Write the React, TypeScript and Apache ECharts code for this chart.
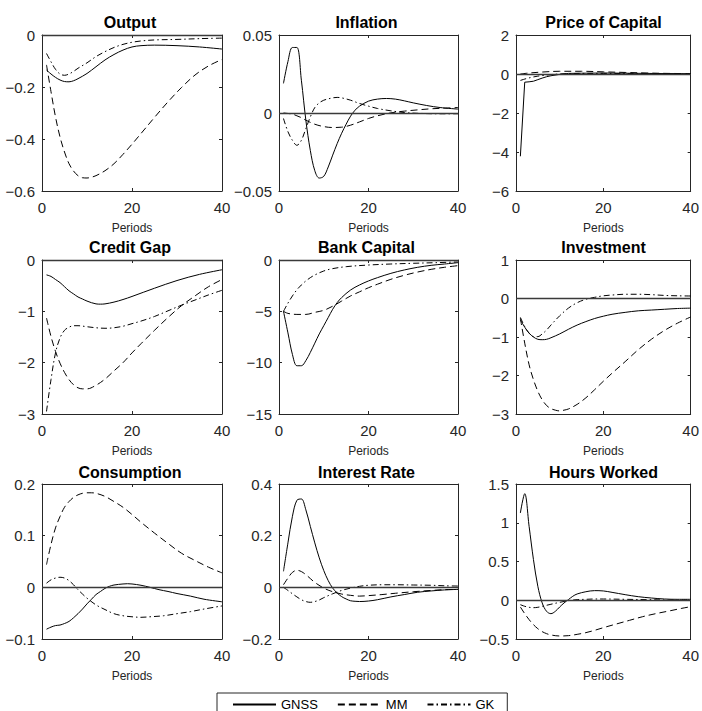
import React, { useEffect, useRef } from 'react';
import * as echarts from 'echarts';

const panelTitles = ['Output', 'Inflation', 'Price of Capital', 'Credit Gap', 'Bank Capital', 'Investment', 'Consumption', 'Interest Rate', 'Hours Worked'];
const yMins = [-0.6, -0.05, -6, -3, -15, -3, -0.1, -0.2, -0.5];
const yMaxs = [0, 0.05, 2, 0, 0, 1, 0.2, 0.4, 1.5];
const yIntervals = [0.2, 0.05, 2, 1, 5, 1, 0.1, 0.2, 0.5];
const xMin = 0;
const xMax = 40;
const xInterval = 20;
const xLabel = 'Periods';
const modelNames = ['GNSS', 'MM', 'GK'];

// Output
const outputGNSS = [[1,-0.135],[2,-0.150],[3,-0.163],[4,-0.173],[5,-0.179],[6,-0.180],[7,-0.176],[8,-0.168],[10,-0.148],[12,-0.122],[14,-0.096],[16,-0.075],[18,-0.058],[20,-0.046],[22,-0.041],[25,-0.039],[30,-0.041],[35,-0.046],[40,-0.054]];
const outputMM = [[1,-0.115],[2,-0.218],[3,-0.315],[4,-0.392],[5,-0.450],[6,-0.495],[7,-0.523],[8,-0.541],[9,-0.549],[10,-0.550],[11,-0.547],[12,-0.541],[14,-0.522],[16,-0.495],[18,-0.459],[20,-0.420],[22,-0.379],[25,-0.317],[28,-0.257],[31,-0.202],[34,-0.154],[37,-0.119],[40,-0.094]];
const outputGK = [[1,-0.071],[2,-0.103],[3,-0.132],[4,-0.150],[5,-0.155],[6,-0.150],[7,-0.140],[8,-0.128],[10,-0.107],[12,-0.083],[14,-0.064],[16,-0.048],[18,-0.036],[20,-0.028],[22,-0.023],[25,-0.019],[30,-0.017],[35,-0.014],[40,-0.012]];

// Inflation
const inflationGNSS = [[1,0.019],[2,0.033],[3,0.042],[4,0.042],[5,0.021],[6,-0.0046],[7,-0.024],[8,-0.037],[9,-0.0417],[10,-0.0406],[11,-0.0346],[12,-0.027],[13,-0.0196],[14,-0.013],[15,-0.0072],[16,-0.002],[17,0.0018],[18,0.0044],[20,0.0076],[22,0.0089],[24,0.0093],[26,0.0089],[28,0.0078],[30,0.0065],[33,0.0048],[36,0.0035],[40,0.0025]];
const inflationMM = [[1,0],[2,-0.0003],[3,-0.0007],[4,-0.0018],[5,-0.003],[6,-0.0046],[8,-0.0072],[10,-0.0087],[12,-0.0093],[14,-0.0091],[16,-0.0078],[18,-0.0057],[20,-0.0035],[22,-0.0018],[25,0.0001],[28,0.0012],[31,0.002],[34,0.0027],[37,0.0031],[40,0.0035]];
const inflationGK = [[1,-0.0035],[2,-0.012],[3,-0.0175],[4,-0.0207],[5,-0.0175],[6,-0.010],[7,-0.0025],[8,0.0035],[9,0.0065],[10,0.0082],[12,0.0097],[13,0.010],[14,0.0097],[16,0.0082],[18,0.0061],[20,0.0044],[22,0.0029],[25,0.0014],[28,0.0003],[32,-0.0003],[36,-0.0005],[40,-0.0005]];

// Price of Capital
const priceGNSS = [[1,-4.22],[2,-0.42],[3,-0.40],[4,-0.37],[5,-0.29],[6,-0.21],[7,-0.14],[8,-0.09],[10,-0.02],[12,0.03],[15,0.04],[20,0.05],[25,0.04],[30,0.03],[40,0.01]];
const priceMM = [[1,0.0],[3,0.05],[6,0.10],[10,0.14],[15,0.14],[20,0.11],[25,0.08],[30,0.05],[35,0.03],[40,0.02]];
const priceGK = [[1,-0.33],[2,-0.26],[3,-0.20],[4,-0.15],[5,-0.11],[6,-0.08],[8,-0.03],[10,0.0],[12,0.02],[15,0.03],[20,0.03],[30,0.01],[40,0.0]];

// Credit Gap
const creditGNSS = [[1,-0.29],[2,-0.32],[3,-0.38],[4,-0.44],[5,-0.52],[6,-0.60],[7,-0.66],[8,-0.72],[9,-0.76],[10,-0.80],[12,-0.855],[13,-0.86],[14,-0.855],[16,-0.82],[18,-0.77],[20,-0.71],[25,-0.55],[30,-0.40],[35,-0.28],[40,-0.19]];
const creditMM = [[1,-1.13],[2,-1.49],[3,-1.78],[4,-2.01],[5,-2.19],[6,-2.33],[7,-2.43],[8,-2.49],[9,-2.51],[10,-2.51],[12,-2.44],[14,-2.32],[16,-2.16],[18,-2.00],[20,-1.81],[22,-1.63],[25,-1.37],[28,-1.12],[31,-0.89],[34,-0.70],[37,-0.52],[40,-0.38]];
const creditGK = [[1,-2.95],[2,-2.33],[3,-1.81],[4,-1.52],[5,-1.37],[6,-1.31],[7,-1.28],[8,-1.28],[10,-1.30],[12,-1.32],[14,-1.33],[16,-1.32],[18,-1.29],[20,-1.24],[22,-1.19],[25,-1.10],[28,-0.99],[31,-0.88],[34,-0.78],[37,-0.68],[40,-0.59]];

// Bank Capital
const bankGNSS = [[1,-5.0],[2,-7.1],[3,-9.2],[4,-10.3],[5,-10.3],[6,-9.8],[7,-9.0],[8,-8.1],[9,-7.2],[10,-6.4],[11,-5.6],[12,-4.8],[13,-4.15],[14,-3.66],[16,-2.92],[18,-2.43],[20,-2.04],[22,-1.72],[25,-1.30],[28,-0.97],[31,-0.71],[34,-0.52],[37,-0.39],[40,-0.26]];
const bankMM = [[1,-5.0],[2,-5.2],[4,-5.3],[6,-5.3],[8,-5.1],[10,-4.9],[12,-4.5],[14,-4.0],[16,-3.5],[18,-3.1],[20,-2.7],[22,-2.36],[25,-1.88],[28,-1.49],[31,-1.17],[34,-0.91],[37,-0.71],[40,-0.55]];
const bankGK = [[1,-5.0],[2,-4.2],[3,-3.5],[4,-2.9],[5,-2.43],[6,-2.04],[7,-1.72],[8,-1.46],[10,-1.07],[12,-0.84],[15,-0.65],[20,-0.49],[25,-0.39],[30,-0.32],[35,-0.26],[40,-0.19]];

// Investment
const investGNSS = [[1,-0.555],[2,-0.745],[3,-0.90],[4,-1.0],[5,-1.06],[6,-1.07],[7,-1.06],[8,-1.02],[10,-0.92],[12,-0.80],[14,-0.69],[16,-0.60],[18,-0.52],[20,-0.46],[22,-0.41],[25,-0.36],[28,-0.32],[31,-0.30],[34,-0.28],[37,-0.26],[40,-0.25]];
const investMM = [[1,-0.51],[2,-1.16],[3,-1.72],[4,-2.11],[5,-2.41],[6,-2.63],[7,-2.78],[8,-2.86],[9,-2.90],[10,-2.92],[11,-2.90],[12,-2.87],[14,-2.75],[16,-2.58],[18,-2.37],[20,-2.15],[22,-1.94],[25,-1.64],[28,-1.33],[31,-1.06],[34,-0.83],[37,-0.64],[40,-0.48]];
const investGK = [[1,-0.49],[2,-0.73],[3,-0.90],[4,-0.99],[5,-0.99],[6,-0.92],[7,-0.82],[8,-0.69],[10,-0.45],[12,-0.25],[14,-0.11],[16,-0.02],[18,0.03],[20,0.07],[22,0.09],[25,0.11],[28,0.11],[31,0.10],[34,0.08],[37,0.07],[40,0.065]];

// Consumption
const consGNSS = [[1,-0.081],[2,-0.077],[3,-0.074],[4,-0.073],[5,-0.070],[6,-0.066],[7,-0.059],[8,-0.051],[9,-0.042],[10,-0.032],[11,-0.023],[12,-0.014],[13,-0.008],[14,-0.002],[15,0.002],[16,0.0045],[18,0.0065],[19,0.007],[20,0.0065],[22,0.004],[24,0.0],[26,-0.0045],[28,-0.008],[30,-0.012],[33,-0.017],[36,-0.023],[40,-0.028]];
const consMM = [[1,0.044],[2,0.083],[3,0.115],[4,0.137],[5,0.155],[6,0.166],[7,0.174],[8,0.179],[9,0.182],[10,0.183],[11,0.183],[12,0.182],[14,0.176],[16,0.166],[18,0.155],[20,0.141],[22,0.126],[25,0.105],[28,0.085],[31,0.066],[34,0.052],[37,0.039],[40,0.028]];
const consGK = [[1,0.008],[2,0.0145],[3,0.018],[4,0.0195],[5,0.018],[6,0.013],[7,0.005],[8,-0.0045],[9,-0.013],[10,-0.021],[12,-0.034],[14,-0.043],[16,-0.051],[18,-0.055],[20,-0.057],[22,-0.058],[24,-0.057],[27,-0.055],[30,-0.051],[33,-0.047],[36,-0.042],[40,-0.036]];

// Interest Rate
const rateGNSS = [[1,0.062],[2,0.172],[3,0.275],[4,0.337],[5,0.342],[6,0.30],[7,0.236],[8,0.172],[9,0.114],[10,0.065],[11,0.026],[12,-0.003],[13,-0.022],[14,-0.036],[15,-0.045],[16,-0.052],[17,-0.054],[18,-0.055],[20,-0.053],[22,-0.048],[25,-0.037],[28,-0.028],[31,-0.019],[34,-0.014],[37,-0.010],[40,-0.008]];
const rateMM = [[1,0.010],[2,0.036],[3,0.058],[4,0.066],[5,0.061],[6,0.049],[7,0.034],[8,0.019],[10,-0.003],[12,-0.017],[14,-0.026],[16,-0.031],[18,-0.034],[20,-0.032],[23,-0.028],[26,-0.023],[30,-0.017],[34,-0.012],[37,-0.009],[40,-0.008]];
const rateGK = [[1,0.0],[2,-0.012],[3,-0.025],[4,-0.037],[5,-0.048],[6,-0.055],[7,-0.058],[8,-0.055],[9,-0.049],[10,-0.040],[12,-0.025],[14,-0.012],[16,-0.003],[18,0.004],[20,0.008],[23,0.010],[26,0.010],[30,0.009],[34,0.008],[37,0.006],[40,0.005]];

// Hours Worked
const hoursGNSS = [[1,1.126],[2,1.375],[3,0.954],[4,0.524],[5,0.18],[6,-0.035],[7,-0.143],[8,-0.173],[9,-0.143],[10,-0.087],[11,-0.035],[12,0.008],[13,0.051],[14,0.081],[16,0.11],[18,0.124],[20,0.12],[22,0.102],[25,0.072],[28,0.046],[31,0.029],[34,0.016],[37,0.012],[40,0.012]];
const hoursMM = [[1,-0.087],[2,-0.173],[3,-0.25],[4,-0.315],[5,-0.367],[6,-0.405],[7,-0.431],[8,-0.448],[10,-0.461],[12,-0.457],[14,-0.44],[16,-0.418],[18,-0.388],[20,-0.354],[23,-0.306],[26,-0.259],[29,-0.212],[32,-0.173],[35,-0.139],[38,-0.104],[40,-0.083]];
const hoursGK = [[1,-0.057],[2,-0.078],[3,-0.091],[4,-0.096],[5,-0.091],[6,-0.078],[8,-0.052],[10,-0.027],[12,-0.005],[14,0.008],[16,0.012],[18,0.016],[20,0.016],[25,0.012],[30,0.008],[35,0.003],[40,0.003]];

const panelData = [
  [outputGNSS, outputMM, outputGK],
  [inflationGNSS, inflationMM, inflationGK],
  [priceGNSS, priceMM, priceGK],
  [creditGNSS, creditMM, creditGK],
  [bankGNSS, bankMM, bankGK],
  [investGNSS, investMM, investGK],
  [consGNSS, consMM, consGK],
  [rateGNSS, rateMM, rateGK],
  [hoursGNSS, hoursMM, hoursGK],
];

// layout (pixels)
const colLeft = [42, 279, 516];
const colWidth = [180, 179, 179];
const rowTop = [35, 260, 484];
const rowHeight = [156, 154, 155];
const titleTop = [14.5, 239.5, 464.5];

const FONT = '"Liberation Sans", Arial, Helvetica, sans-serif';
const AXIS_COLOR = '#262626';
const lineDashes: any[] = ['solid', [7, 4], [6, 3, 1.5, 3]];

const fmtTick = (v: number) => {
  const s = String(Math.round(v * 10000) / 10000);
  return s.replace('-', '\u2212');
};

export default function App() {
  const ref = useRef<HTMLDivElement>(null);
  useEffect(() => {
    if (!ref.current) return;
    const chart = echarts.init(ref.current, undefined, { renderer: 'svg' });
    const grids: any[] = [];
    const xAxes: any[] = [];
    const yAxes: any[] = [];
    const titles: any[] = [];
    const series: any[] = [];
    for (let i = 0; i < 9; i++) {
      const col = i % 3;
      const row = Math.floor(i / 3);
      grids.push({ left: colLeft[col], top: rowTop[row], width: colWidth[col], height: rowHeight[row], containLabel: false });
      titles.push({
        text: panelTitles[i],
        left: colLeft[col] + colWidth[col] / 2 - 2,
        top: titleTop[row],
        textAlign: 'center',
        padding: 0,
        textStyle: { fontSize: 16, fontWeight: 'bold', color: '#000', fontFamily: FONT },
      });
      const common = {
        gridIndex: i,
        axisLine: { show: true, onZero: false, lineStyle: { color: AXIS_COLOR, width: 1 } },
        axisTick: { show: true, inside: true, length: 3, lineStyle: { color: AXIS_COLOR } },
        splitLine: { show: false },
      };
      xAxes.push({
        ...common,
        type: 'value', position: 'bottom', min: xMin, max: xMax, interval: xInterval,
        axisLabel: { show: true, fontSize: 15, color: AXIS_COLOR, margin: 9, fontFamily: FONT, formatter: fmtTick },
        name: xLabel, nameLocation: 'middle', nameGap: 31,
        nameTextStyle: { fontSize: 12, color: AXIS_COLOR, fontFamily: FONT },
      });
      xAxes.push({
        ...common,
        type: 'value', position: 'top', min: xMin, max: xMax, interval: xInterval,
        axisLabel: { show: false },
      });
      yAxes.push({
        ...common,
        type: 'value', position: 'left', min: yMins[i], max: yMaxs[i], interval: yIntervals[i],
        axisLabel: { show: true, fontSize: 15, color: AXIS_COLOR, margin: 7, fontFamily: FONT, formatter: fmtTick },
      });
      yAxes.push({
        ...common,
        type: 'value', position: 'right', min: yMins[i], max: yMaxs[i], interval: yIntervals[i],
        axisLabel: { show: false },
      });
      panelData[i].forEach((d, k) => {
        const s: any = {
          type: 'line',
          name: modelNames[k],
          xAxisIndex: 2 * i,
          yAxisIndex: 2 * i,
          data: d,
          symbol: 'none',
          showSymbol: false,
          smooth: i === 2 && k === 0 ? false : 0.35,
          lineStyle: { color: '#000', width: 1, type: lineDashes[k] },
          itemStyle: { color: '#000' },
          z: 3,
        };
        if (k === 0) {
          s.markLine = {
            silent: true,
            symbol: ['none', 'none'],
            label: { show: false },
            lineStyle: { color: '#3a3a3a', width: 1.3, type: 'solid' },
            data: [{ yAxis: 0 }],
          };
        }
        series.push(s);
      });
    }
    chart.setOption({
      animation: false,
      backgroundColor: '#fff',
      textStyle: { fontFamily: FONT },
      title: titles,
      grid: grids,
      xAxis: xAxes,
      yAxis: yAxes,
      legend: {
        data: modelNames,
        left: 217,
        top: 693,
        orient: 'horizontal',
        itemWidth: 43,
        itemHeight: 12,
        itemGap: 19,
        padding: [5, 13, 8, 15],
        borderColor: AXIS_COLOR,
        borderWidth: 1,
        backgroundColor: '#fff',
        selectedMode: false,
        itemStyle: { opacity: 0, borderWidth: 0 },
        textStyle: { fontSize: 13, color: '#000', fontFamily: FONT },
      },
      series,
    });
    return () => chart.dispose();
  }, []);
  return (
    <div
      ref={ref}
      style={{ position: 'absolute', left: 0, top: 0, width: 702, height: 711, background: '#fff' }}
    />
  );
}
